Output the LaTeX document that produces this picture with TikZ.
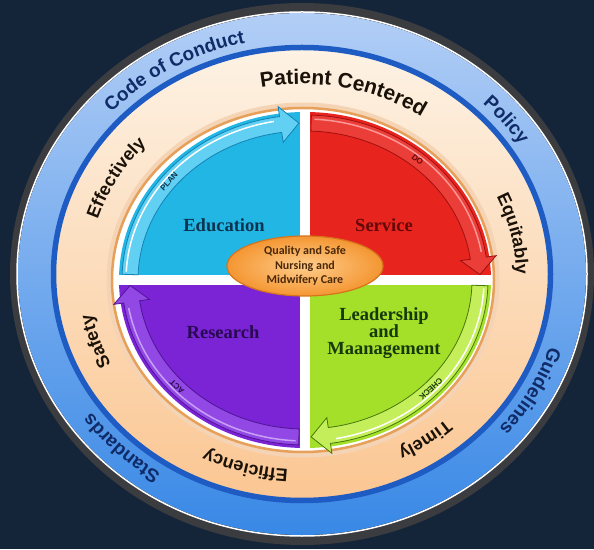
\documentclass[tikz,border=0pt]{standalone}
\usepackage{fontspec}
\setsansfont{Liberation Sans}
\newfontfamily\carlito{Carlito}
\newfontfamily\quadserif{Liberation Serif}
\usetikzlibrary{calc,shapes.geometric,decorations.text}

\definecolor{navybg}{RGB}{20,37,58}
\definecolor{rimgray}{RGB}{58,60,64}
\definecolor{bluetop}{RGB}{178,206,246}
\definecolor{bluemid}{RGB}{140,184,240}
\definecolor{bluebot}{RGB}{56,136,230}
\definecolor{blueline}{RGB}{30,92,196}
\definecolor{bluetext}{RGB}{16,44,104}
\definecolor{peachtop}{RGB}{253,242,228}
\definecolor{peachmid}{RGB}{252,222,190}
\definecolor{peachbot}{RGB}{251,198,146}
\definecolor{ringorange}{RGB}{230,160,90}
\definecolor{edufill}{RGB}{34,182,228}
\definecolor{serfill}{RGB}{232,36,30}
\definecolor{resfill}{RGB}{122,36,214}
\definecolor{leadfill}{RGB}{164,224,42}
\definecolor{eduarrow}{RGB}{98,208,242}
\definecolor{edudark}{RGB}{20,130,180}
\definecolor{serarrow}{RGB}{236,62,56}
\definecolor{serdark}{RGB}{160,16,16}
\definecolor{serlight}{RGB}{250,150,150}
\definecolor{leadarrow}{RGB}{196,238,90}
\definecolor{leaddark}{RGB}{70,120,10}
\definecolor{resarrow}{RGB}{146,72,228}
\definecolor{resdark}{RGB}{80,20,150}
\definecolor{reslight}{RGB}{200,160,245}
\definecolor{edutext}{RGB}{12,52,80}
\definecolor{sertext}{RGB}{100,8,8}
\definecolor{restext}{RGB}{40,10,80}
\definecolor{leadtext}{RGB}{22,56,10}
\definecolor{coretext}{RGB}{74,40,8}
\definecolor{coreinner}{RGB}{255,205,140}
\definecolor{coreouter}{RGB}{244,150,50}
\definecolor{coreedge}{RGB}{214,116,28}
\definecolor{ringtext}{RGB}{26,18,8}

\newcommand\ringfont{\sffamily\bfseries\fontsize{18}{18}\selectfont}
\newcommand\bluefont{\sffamily\bfseries\fontsize{19}{19}\selectfont}
\newcommand\bigringfont{\sffamily\bfseries\fontsize{21}{21}\selectfont}

\begin{document}
\begin{tikzpicture}[x=1pt, y=1pt,
    quad/.style={font=\quadserif\bfseries\fontsize{18.5}{17}\selectfont, align=center, inner sep=0pt},
    pdca/.style={font=\sffamily\bfseries\fontsize{8}{8}\selectfont, inner sep=0pt},
    core/.style={ellipse, draw=coreedge, line width=1.2pt, inner color=coreinner, outer color=coreouter, minimum width=156, minimum height=60, inner sep=0pt, align=center, text=coretext, font=\carlito\bfseries\fontsize{12}{14.5}\selectfont},
    bluetxt/.style={decorate, decoration={text along path, text align=center, text={|\color{bluetext}\bluefont|#1}}},
    peachtxt/.style={decorate, decoration={text along path, text align=center, text={|\color{ringtext}\ringfont|#1}}},
    bigtxt/.style={decorate, decoration={text along path, text align=center, text={|\color{ringtext}\bigringfont|#1}}}
  ]
    \fill[navybg] (0,0) rectangle (594,549);
    \useasboundingbox (0,0) rectangle (594,549);
    \coordinate (R) at (302,275);
    \coordinate (P) at (302,272);
    \coordinate (Q) at (305,269);

    \fill[rimgray] (R) ellipse [x radius=292, y radius=271];
    \fill[top color=bluetop, middle color=bluemid, bottom color=bluebot] (R) ellipse [x radius=284, y radius=261];
    \draw[white, line width=1.5] (R) ellipse [x radius=285, y radius=262];
    \fill[top color=peachtop, middle color=peachmid, bottom color=peachbot] (R) ellipse [x radius=248, y radius=226];
    \draw[blueline, line width=5.5] (R) ellipse [x radius=248.5, y radius=226.5];
    \draw[ringorange!45, line width=5] (303,269) ellipse [x radius=194, y radius=175];
    \filldraw[fill=white, draw=ringorange, line width=2.5] (303,269) ellipse [x radius=191, y radius=172];

    \begin{scope}
      \clip (Q) ellipse [x radius=186, y radius=168];
      \fill[edufill] ($(Q)+(-200,5)$) rectangle ($(Q)+(-5,200)$);
      \fill[serfill] ($(Q)+(5,5)$) rectangle ($(Q)+(200,200)$);
      \fill[leadfill] ($(Q)+(5,-5)$) rectangle ($(Q)+(200,-200)$);
      \fill[resfill] ($(Q)+(-200,-5)$) rectangle ($(Q)+(-5,-200)$);
    \end{scope}

    \foreach \s/\fc/\dc/\hc in {180/eduarrow/edudark/white, 90/serarrow/serdark/serlight, 0/leadarrow/leaddark/white, -90/resarrow/resdark/reslight} {
      \filldraw[fill=\fc, draw=\dc, line width=0.8]
        ($(Q)+(\s-2:183 and 165)$) arc[start angle=\s-2, end angle=\s-82, x radius=183, y radius=165]
        -- ($(Q)+(\s-82:193 and 175)$) -- ($(Q)+(\s-88:175 and 157)$) -- ($(Q)+(\s-82:157 and 139)$)
        -- ($(Q)+(\s-82:167 and 149)$) arc[start angle=\s-82, end angle=\s-2, x radius=167, y radius=149] -- cycle;
      \draw[\hc, line width=1.5] ($(Q)+(\s-3:179 and 161)$) arc[start angle=\s-3, end angle=\s-80, x radius=179, y radius=161];
    }

    \node[pdca, text=edutext, rotate=48] (plan) at ($(Q)+(141:175 and 157)$) {PLAN};
    \node[pdca, text=sertext, rotate=-37] (do) at ($(Q)+(50:175 and 157)$) {DO};
    \node[pdca, text=leadtext, rotate=-137] (check) at ($(Q)+(-44:175 and 157)$) {CHECK};
    \node[pdca, text=restext, rotate=136] (act) at ($(Q)+(223:175 and 157)$) {ACT};

    \node[quad, text=edutext] (education) at (224,324) {Education};
    \node[quad, text=sertext] (service) at (384,324) {Service};
    \node[quad, text=restext] (research) at (223,217) {Research};
    \node[quad, text=leadtext] (leadership) at (384,216) {Leadership\\and\\Maanagement};
    \node[core] (core) at (305,283) {Quality and Safe\\Nursing and\\Midwifery Care};

    \path[bluetxt={Code of Conduct}] ($(R)+(171:260 and 237)$) arc[start angle=171, end angle=71, x radius=260, y radius=237];
    \path[bluetxt={Policy}] ($(R)+(88:260 and 237)$) arc[start angle=88, end angle=-12, x radius=260, y radius=237];
    \path[bluetxt={Guidelines}] ($(R)+(22:260 and 237)$) arc[start angle=22, end angle=-78, x radius=260, y radius=237];
    \path[bluetxt={Standards}] ($(R)+(275:260 and 237)$) arc[start angle=275, end angle=175, x radius=260, y radius=237];

    \path[bigtxt={Patient Centered}] ($(P)+(128:214 and 193)$) arc[start angle=128, end angle=28, x radius=214, y radius=193];
    \path[peachtxt={Effectively}] ($(P)+(201:214 and 193)$) arc[start angle=201, end angle=101, x radius=214, y radius=193];
    \path[peachtxt={Equitably}] ($(P)+(62:214 and 193)$) arc[start angle=62, end angle=-38, x radius=214, y radius=193];
    \path[peachtxt={Timely}] ($(P)+(-4:214 and 193)$) arc[start angle=-4, end angle=-104, x radius=214, y radius=193];
    \path[peachtxt={Efficiency}] ($(P)+(304:214 and 193)$) arc[start angle=304, end angle=204, x radius=214, y radius=193];
    \path[peachtxt={Safety}] ($(P)+(248:214 and 193)$) arc[start angle=248, end angle=148, x radius=214, y radius=193];
  \end{tikzpicture}
\end{document}
